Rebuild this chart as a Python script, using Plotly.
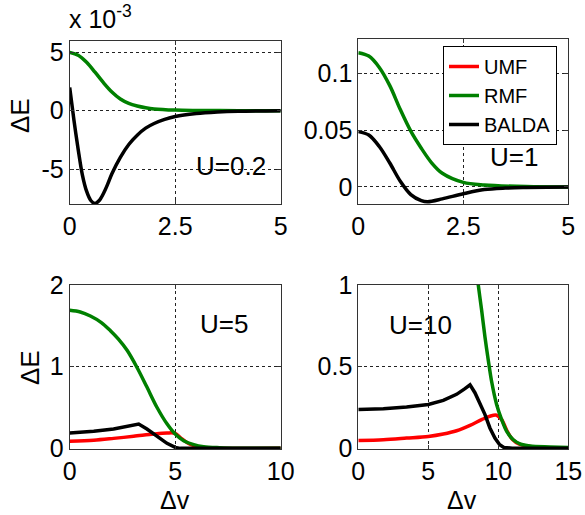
import plotly.graph_objects as go

W, H = 585, 515
FONT = "Liberation Sans, Arial, sans-serif"

# ---------------- data ----------------
# U = 0.2 (values in units of 1e-3)
x_u02_rmf = [0, 0.2, 0.4, 0.6, 0.8, 1.0, 1.2, 1.4, 1.6, 1.8, 2.0, 2.5, 3.0, 4.0, 5.0]
y_u02_rmf = [5.0, 4.75, 4.15, 3.3, 2.4, 1.6, 1.0, 0.62, 0.4, 0.25, 0.15, 0.05, 0.02, 0.0, 0.0]
x_u02_balda = [0, 0.1, 0.2, 0.3, 0.4, 0.5, 0.6, 0.7, 0.8, 0.9, 1.0, 1.2, 1.4, 1.6, 1.8,
               2.0, 2.25, 2.5, 3.0, 3.5, 4.0, 5.0]
y_u02_balda = [2.0, -0.8, -3.3, -5.5, -6.9, -7.7, -7.95, -7.7, -7.1, -6.3, -5.4, -4.0,
               -2.9, -2.1, -1.5, -1.1, -0.75, -0.5, -0.25, -0.12, -0.05, 0.0]

# U = 1
x_u1_rmf = [0, 0.25, 0.5, 0.75, 1.0, 1.25, 1.5, 1.75, 2.0, 2.5, 3.0, 4.0, 5.0]
y_u1_rmf = [0.118, 0.115, 0.105, 0.089, 0.068, 0.049, 0.034, 0.021, 0.012, 0.004,
            0.0017, 0.0003, 0.0]
x_u1_balda = [0, 0.25, 0.5, 0.75, 1.0, 1.25, 1.5, 1.65, 2.0, 2.5, 3.0, 3.5, 4.0, 5.0]
y_u1_balda = [0.0486, 0.0456, 0.0355, 0.021, 0.005, -0.0067, -0.012, -0.013, -0.0105,
              -0.006, -0.0023, -0.001, -0.0005, 0.0]

# U = 5
x_u5_umf = [0, 1.14, 2.08, 3.03, 3.98, 4.61, 5.0, 5.3, 5.7, 6.2, 7.0, 10.0]
y_u5_umf = [0.086, 0.10, 0.122, 0.147, 0.175, 0.188, 0.184, 0.12, 0.05, 0.015, 0.0, 0.0]
x_u5_rmf = [0, 0.5, 0.98, 1.5, 1.93, 2.3, 2.72, 3.19, 3.66, 4.14, 4.61, 5.0, 5.4, 5.88,
            6.35, 7.1, 8.0, 10.0]
y_u5_rmf = [1.69, 1.67, 1.62, 1.54, 1.44, 1.34, 1.20, 0.99, 0.75, 0.50, 0.30, 0.175,
            0.094, 0.045, 0.02, 0.008, 0.002, 0.0]
x_u5_balda = [0, 1.14, 2.08, 2.72, 3.0, 3.27, 3.66, 4.14, 4.61, 5.0, 5.24, 10.0]
y_u5_balda = [0.188, 0.208, 0.237, 0.27, 0.285, 0.298, 0.237, 0.147, 0.061, 0.012, 0.0, 0.0]

# U = 10
x_u10_umf = [0, 1.79, 3.45, 5.0, 6.07, 7.02, 7.98, 8.81, 9.4, 9.88, 10.24, 10.6, 11.0,
             11.5, 12.5, 15.0]
y_u10_umf = [0.047, 0.052, 0.062, 0.072, 0.087, 0.107, 0.14, 0.175, 0.196, 0.202, 0.175,
             0.11, 0.055, 0.025, 0.008, 0.002]
x_u10_rmf = [8.3, 8.57, 8.81, 9.05, 9.29, 9.52, 9.88, 10.24, 10.6, 11.07, 11.55, 12.26,
             13.7, 15.0]
y_u10_rmf = [1.2, 1.0, 0.845, 0.68, 0.536, 0.41, 0.268, 0.175, 0.103, 0.052, 0.027,
             0.014, 0.008, 0.004]
x_u10_balda = [0, 1.79, 3.45, 5.0, 6.07, 7.02, 7.62, 7.98, 8.33, 8.69, 9.05, 9.4, 9.76,
               10.1, 10.4, 11.0, 15.0]
y_u10_balda = [0.237, 0.241, 0.252, 0.268, 0.293, 0.33, 0.365, 0.388, 0.34, 0.278, 0.206,
               0.124, 0.062, 0.021, 0.004, 0.0, 0.0]

series_names = ["UMF", "RMF", "BALDA"]
colors = {"UMF": "#ff0000", "RMF": "#008000", "BALDA": "#000000"}
panel_labels = ["U=0.2", "U=1", "U=5", "U=10"]

# ---------------- layout helpers ----------------
def px_x(p):
    return p / W

def px_y(p):
    return 1 - p / H

panels = {
    # name: (x0, x1, ytop, ybottom) in pixels
    "tl": (69.7, 280.7, 40.7, 204.0),
    "tr": (358.3, 568.3, 39.0, 204.0),
    "bl": (69.7, 280.7, 285.0, 449.0),
    "br": (358.3, 568.3, 285.0, 449.0),
}
axis_ids = {"tl": ("x", "y"), "tr": ("x2", "y2"), "bl": ("x3", "y3"), "br": ("x4", "y4")}

fig = go.Figure()
LW = 3.5

def add(panel, name, xs, ys, shape="spline", legend=False):
    xa, ya = axis_ids[panel]
    fig.add_trace(go.Scatter(
        x=xs, y=ys, mode="lines", name=name,
        line=dict(color=colors[name], width=LW, shape=shape, smoothing=0.9),
        xaxis=xa, yaxis=ya, showlegend=legend, legendgroup=name,
    ))

# top-left
add("tl", "RMF", x_u02_rmf, y_u02_rmf)
add("tl", "BALDA", x_u02_balda, y_u02_balda)
# top-right (holds legend)
xa, ya = axis_ids["tr"]
fig.add_trace(go.Scatter(x=[None], y=[None], mode="lines", name="UMF",
                         line=dict(color=colors["UMF"], width=LW),
                         xaxis=xa, yaxis=ya, showlegend=True, legendgroup="UMF"))
add("tr", "RMF", x_u1_rmf, y_u1_rmf, legend=True)
add("tr", "BALDA", x_u1_balda, y_u1_balda, legend=True)
# bottom-left
add("bl", "UMF", x_u5_umf, y_u5_umf)
add("bl", "RMF", x_u5_rmf, y_u5_rmf)
add("bl", "BALDA", x_u5_balda, y_u5_balda, shape="linear")
# bottom-right
add("br", "UMF", x_u10_umf, y_u10_umf)
add("br", "RMF", x_u10_rmf, y_u10_rmf)
add("br", "BALDA", x_u10_balda, y_u10_balda, shape="linear")

axis_cfg = {
    "tl": dict(xr=[0, 5], xt=[0, 2.5, 5], xl=["0", "2.5", "5"],
               yr=[-8, 6], yt=[-5, 0, 5], yl=["-5", "0", "5"]),
    "tr": dict(xr=[0, 5], xt=[0, 2.5, 5], xl=["0", "2.5", "5"],
               yr=[-0.015, 0.13], yt=[0, 0.05, 0.1], yl=["0", "0.05", "0.1"]),
    "bl": dict(xr=[0, 10], xt=[0, 5, 10], xl=["0", "5", "10"],
               yr=[-0.008, 2], yt=[0, 1, 2], yl=["0", "1", "2"]),
    "br": dict(xr=[0, 15], xt=[0, 5, 10, 15], xl=["0", "5", "10", "15"],
               yr=[-0.005, 1], yt=[0, 0.5, 1], yl=["0", "0.5", "1"]),
}

tickfont = dict(family=FONT, size=25, color="black")
layout = dict(
    template="none",
    width=W, height=H, autosize=False,
    margin=dict(l=0, r=0, t=0, b=0, pad=0, autoexpand=False),
    paper_bgcolor="white", plot_bgcolor="white",
    showlegend=True,
    legend=dict(x=px_x(443), y=px_y(46), xanchor="left", yanchor="top",
                bgcolor="white", bordercolor="black", borderwidth=1,
                font=dict(family=FONT, size=20, color="black"),
                tracegroupgap=0, itemwidth=30),
)

for i, (p, (x0, x1, yt, yb)) in enumerate(panels.items()):
    sfx = "" if i == 0 else str(i + 1)
    c = axis_cfg[p]
    common = dict(showline=True, linecolor="#333333", linewidth=1, mirror="allticks",
                  ticks="inside", ticklen=4, tickcolor="#333333", automargin=False,
                  showgrid=True, gridcolor="#222222", gridwidth=1, griddash="dot",
                  zeroline=False, tickfont=tickfont, fixedrange=True)
    layout["xaxis" + sfx] = dict(common, domain=[px_x(x0), px_x(x1)], range=c["xr"],
                                 tickmode="array", tickvals=c["xt"], ticktext=c["xl"],
                                 anchor="y" + sfx)
    layout["yaxis" + sfx] = dict(common, domain=[px_y(yb), px_y(yt)], range=c["yr"],
                                 tickmode="array", tickvals=c["yt"], ticktext=c["yl"],
                                 anchor="x" + sfx)

fig.update_layout(**layout)

annfont = dict(family=FONT, size=26, color="black")
ann = []
label_pos = [(231, 166), (514, 157), (224, 324), (420, 325)]
for lab, (cx, cy) in zip(panel_labels, label_pos):
    ann.append(dict(text=lab, x=px_x(cx), y=px_y(cy), xref="paper", yref="paper",
                    xanchor="center", yanchor="middle", showarrow=False, font=annfont))
# axis titles
for (cx, cy) in [(20, 116), (30, 368)]:
    ann.append(dict(text="ΔE", x=px_x(cx), y=px_y(cy), xref="paper", yref="paper",
                    xanchor="center", yanchor="middle", textangle=-90, showarrow=False,
                    font=annfont))
for (cx, cy) in [(175, 500), (462, 500)]:
    ann.append(dict(text="Δv", x=px_x(cx), y=px_y(cy), xref="paper", yref="paper",
                    xanchor="center", yanchor="middle", showarrow=False,
                    font=dict(family=FONT, size=25, color="black")))
# exponent label
ann.append(dict(text="x 10<sup>-3</sup>", x=px_x(67), y=px_y(35), xref="paper",
                yref="paper", xanchor="left", yanchor="bottom", showarrow=False,
                font=dict(family=FONT, size=25, color="black")))
fig.update_layout(annotations=ann)

fig.write_html("out.html",
               config={"displayModeBar": False},
               post_script="document.body.style.margin='0';"
                           "document.body.style.overflow='hidden';")
